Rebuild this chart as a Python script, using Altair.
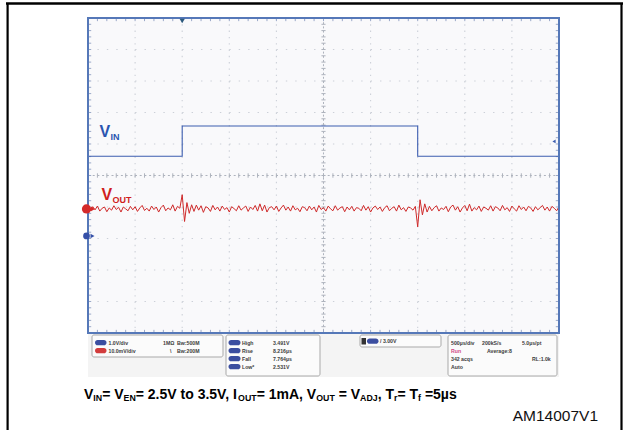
import altair as alt
import pandas as pd

# ---------------- data ----------------
vin_time_ms = [0.0, 1.0, 1.0, 3.5, 3.5, 5.0]
vin_volts = [2.531, 2.531, 3.491, 3.491, 2.531, 2.531]

vout_step_ms = 0.025
vout_ac_mv = [
    0.4, -0.6, 0.7, -0.3, 0.9, -0.7, 0.2, 0.6, -0.9, 0.3,
    -0.4, 1.0, -0.2, 0.5, -1.0, 0.6, 0.0, -0.6, 0.8, -0.3,
    0.7, -0.8, 0.3, 1.1, -0.5, 0.2, -0.7, 0.9, -0.2, 0.6,
    -1.0, 0.4, 1.2, -0.6, 0.3, -0.3, 1.3, -0.7, 0.8, 0.2,
    4.5, -4.0, 2.0, -1.4, 1.3,
    -0.8, 1.2, -0.4, 1.0, -1.1, 0.7, 0.3, -0.8, 1.1, -0.3,
    0.6, -0.7, 0.9, -0.2, 0.4, -1.0, 0.7, 0.1, -0.6, 1.0,
    -0.4, 0.3, 0.9, -0.8, 0.6, -0.2, 1.1, -0.7, 1.6, -0.6,
    1.2, -1.0, 0.4, 0.7, -0.3, 0.9, -0.8, 0.3, 1.2, -0.4,
    0.6, -0.7, 1.0, -0.3, 0.2, -0.9, 0.7, 0.4, -0.6, 0.9,
    -0.3, 0.6, -1.0, 1.1, -0.2, 0.4, -0.7, 0.9, 0.0, -0.6,
    1.0, -0.4, 0.3, 0.7, -0.9, 0.6, -0.3, 0.8, -0.7, 0.4,
    0.2, -0.6, 1.1, -0.4, 0.7, -1.0, 0.3, 0.9, -0.2, 0.6,
    -0.8, 0.4, 1.0, -0.6, 0.2, 0.7, -0.7, 1.2, -0.3, 0.4,
    -0.8, 0.6, 0.3, -0.4, 0.8,
    -5.7, 2.9, -1.9, 1.6, -1.0,
    0.8, -0.6, 0.4, 1.0, -0.7, 0.3, -0.2, 0.8, -0.9, 0.6,
    1.2, -0.4, 0.7, -1.0, 0.3, 1.1, -0.6, 1.5, -0.7, 0.4,
    -0.3, 0.9, -0.8, 0.6, 0.2, -0.4, 1.0, -0.7, 0.7, 0.3,
    -0.6, 1.1, -0.3, 0.4, -0.8, 0.9, 0.0, -0.7, 1.0, -0.2,
    0.6, -0.6, 0.8, 0.3, -0.8, 0.7, -0.3, 0.4, 1.1, -0.4,
    0.6, -0.7, 0.8, 0.2, -0.6, 0.7,
]

vin_volts_per_div = 1.0
vout_mv_per_div = 10.0
vin_ground_div = -1.92
vout_offset_div = -1.06
trigger_level_v = 3.0
trigger_time_ms = 1.0

ch_scale = ["1.0V/div", "10.0mV/div"]
ch_imp = ["1MΩ", "\\"]
ch_bw = ["Bw:500M", "Bw:200M"]
meas_names = ["High", "Rise", "Fall", "Low*"]
meas_values = ["3.491V", "8.216µs", "7.764µs", "2.531V"]
trig_text = "/ 3.00V"
acq_col1 = ["500µs/div", "Run", "342 acqs", "Auto"]
acq_col2 = ["200kS/s", "Average:8", "", ""]
acq_col3 = ["5.0µs/pt", "", "RL:1.0k", ""]
caption_main = ["V", "= V", "= 2.5V to 3.5V, I", "= 1mA, V", " = V", ", T", "= T", " =5µs"]
caption_sub = ["IN", "EN", "OUT", "OUT", "ADJ", "r", "f"]
figure_id = "AM14007V1"

# ---------------- tables ----------------
vin_df = pd.DataFrame({"t": vin_time_ms,
                       "d": [v / vin_volts_per_div + vin_ground_div for v in vin_volts]})
vout_df = pd.DataFrame({"t": [i * vout_step_ms for i in range(len(vout_ac_mv))],
                        "d": [m / vout_mv_per_div + vout_offset_div for m in vout_ac_mv]})

XS = alt.Scale(domain=[-0.9342, 5.7113], nice=False, zero=False)
YS = alt.Scale(domain=[-8.0794, 5.5714], nice=False, zero=False)
one = pd.DataFrame({"a": [0]})

SANS = "Liberation Sans, Arial, sans-serif"

# Arial/Liberation Sans Bold advance widths (1/1000 em) for laying out the caption pieces
BOLD_W = {'V': 667, '=': 584, ' ': 278, 'I': 278, 'N': 722, 'E': 667, '2': 556, '.': 278, '5': 556,
          't': 333, 'o': 611, '3': 556, ',': 278, 'O': 778, 'U': 722, 'T': 611, '1': 556, 'm': 889,
          'A': 722, 'D': 722, 'J': 556, 'r': 389, 'f': 333, 'µ': 611, 's': 556}


def rules(df, color, width=1.0, dash=None, opacity=1.0):
    kw = dict(color=color, strokeWidth=width, opacity=opacity)
    if dash:
        kw["strokeDash"] = dash
    enc = dict(x=alt.X("t:Q", scale=XS, axis=None), y=alt.Y("d:Q", scale=YS, axis=None))
    if "t2" in df:
        enc["x2"] = alt.X2("t2:Q")
    if "d2" in df:
        enc["y2"] = alt.Y2("d2:Q")
    return alt.Chart(df).mark_rule(**kw).encode(**enc)


def txt(s, x, y, size, color="#000", weight="normal", font=SANS, align="left", baseline="alphabetic"):
    return alt.Chart(one).mark_text(text=s, fontSize=size, color=color, fontWeight=weight, font=font,
                                    align=align, baseline=baseline).encode(
        x=alt.value(x), y=alt.value(y))


def box(x, x2, y, y2, fill, stroke=None, sw=1.0, r=0):
    kw = dict(fill=fill, cornerRadius=r)
    if stroke:
        kw["stroke"] = stroke
        kw["strokeWidth"] = sw
    return alt.Chart(one).mark_rect(**kw).encode(
        x=alt.value(x), x2=alt.value(x2), y=alt.value(y), y2=alt.value(y2))


layers = []
# info strip and graticule background
layers.append(box(88, 559, 334, 377, "#f4f4f4"))
layers.append(alt.Chart(pd.DataFrame({"t": [0.0], "t2": [5.0], "d": [5.0], "d2": [-5.0]})).mark_rect(
    fill="#f9f9fb").encode(x=alt.X("t:Q", scale=XS, axis=None), x2="t2:Q",
                           y=alt.Y("d:Q", scale=YS, axis=None), y2="d2:Q"))

# grid (faint dotted)
gh = pd.DataFrame({"d": [float(k) for k in range(-4, 5) if k != 0]})
gh["t"], gh["t2"] = 0.0, 5.0
gv = pd.DataFrame({"t": [0.5 * k for k in range(1, 10) if k != 5]})
gv["d"], gv["d2"] = 5.0, -5.0
layers.append(rules(gh, "#ccd0d8", 1.1, [1.4, 8.02]))
layers.append(rules(gv, "#ccd0d8", 1.1, [1.4, 4.9]))
# center cross
layers.append(rules(pd.DataFrame({"t": [0.0], "t2": [5.0], "d": [0.0]}), "#aeb3bd", 1, [2, 2.7]))
layers.append(rules(pd.DataFrame({"t": [2.5], "d": [5.0], "d2": [-5.0]}), "#aeb3bd", 1, [2, 2.2]))
ct = pd.DataFrame({"t": [0.1 * k for k in range(1, 50)]})
ct["d"], ct["d2"] = -0.07, 0.07
layers.append(rules(ct, "#aeb3bd", 1))
cv = pd.DataFrame({"d": [0.2 * j - 5 for j in range(1, 50)]})
cv["t"], cv["t2"] = 2.5 - 0.022, 2.5 + 0.022
layers.append(rules(cv, "#aeb3bd", 1))
# edge ticks
et = pd.DataFrame({"t": [0.1 * k for k in range(1, 50)]})
et_top = et.copy(); et_top["d"], et_top["d2"] = 5.0, 4.9
et_bot = et.copy(); et_bot["d"], et_bot["d2"] = -5.0, -4.9
ev = pd.DataFrame({"d": [0.2 * j - 5 for j in range(1, 50)]})
ev_l = ev.copy(); ev_l["t"], ev_l["t2"] = 0.0, 0.034
ev_r = ev.copy(); ev_r["t"], ev_r["t2"] = 5.0 - 0.034, 5.0
for df in (et_top, et_bot, ev_l, ev_r):
    layers.append(rules(df, "#9aa8c8", 1))

# traces
layers.append(alt.Chart(vin_df).mark_line(color="#3d5eb0", strokeWidth=1.1).encode(
    x=alt.X("t:Q", scale=XS, axis=None), y=alt.Y("d:Q", scale=YS, axis=None)))
layers.append(alt.Chart(vout_df).mark_line(color="#cf2a2a", strokeWidth=1.0).encode(
    x=alt.X("t:Q", scale=XS, axis=None), y=alt.Y("d:Q", scale=YS, axis=None)))

# graticule border
layers.append(alt.Chart(pd.DataFrame({"t": [0.0], "t2": [5.0], "d": [5.0], "d2": [-5.0]})).mark_rect(
    fillOpacity=0, stroke="#5578b8", strokeWidth=2).encode(
    x=alt.X("t:Q", scale=XS, axis=None), x2="t2:Q", y=alt.Y("d:Q", scale=YS, axis=None), y2="d2:Q"))

# markers: channel offsets, trigger position, trigger level
mk_vin = pd.DataFrame({"d": [vin_ground_div]})
mk_vout = pd.DataFrame({"d": [vout_offset_div]})
layers.append(alt.Chart(mk_vin).mark_point(shape="circle", filled=True, size=45, color="#3550a8", opacity=1).encode(
    x=alt.value(86.5), y=alt.Y("d:Q", scale=YS, axis=None)))
layers.append(alt.Chart(mk_vin).mark_point(shape="triangle-right", filled=True, size=22, color="#3550a8", opacity=1).encode(
    x=alt.value(92.5), y=alt.Y("d:Q", scale=YS, axis=None)))
layers.append(alt.Chart(mk_vout).mark_point(shape="circle", filled=True, size=85, color="#d42a2a", opacity=1).encode(
    x=alt.value(86.5), y=alt.Y("d:Q", scale=YS, axis=None)))
layers.append(alt.Chart(mk_vout).mark_point(shape="triangle-right", filled=True, size=22, color="#d42a2a", opacity=1).encode(
    x=alt.value(93), y=alt.Y("d:Q", scale=YS, axis=None)))
layers.append(alt.Chart(pd.DataFrame({"t": [trigger_time_ms]})).mark_point(
    shape="triangle-down", filled=True, size=28, color="#2d5a7e", opacity=1).encode(
    x=alt.X("t:Q", scale=XS, axis=None), y=alt.value(21)))
layers.append(alt.Chart(pd.DataFrame({"d": [trigger_level_v / vin_volts_per_div + vin_ground_div]})).mark_point(
    shape="triangle-left", filled=True, size=14, color="#3d5eb0", opacity=1).encode(
    x=alt.value(554), y=alt.Y("d:Q", scale=YS, axis=None)))

# channel labels
layers.append(txt("V", 99.5, 136.7, 16, "#2a55b0", "bold"))
layers.append(txt("IN", 110.5, 139.5, 9, "#2a55b0", "bold"))
layers.append(txt("V", 101.5, 200, 16, "#d01e1e", "bold"))
layers.append(txt("OUT", 112.5, 202.5, 9, "#d01e1e", "bold"))

# info boxes
INFO = "#3c3c3c"
FS = 5.2
layers.append(box(92, 223, 335, 357, "#fbfbfb", "#a9a9a9", 1, 2))
rows1 = [342.7, 350.7]
for i, yv in enumerate(rows1):
    layers.append(box(95, 106.5, yv - 2.6, yv + 2.6, "#3b4ea0" if i == 0 else "#d23c3c", r=2.6))
    layers.append(txt(ch_scale[i], 108.5, yv, FS, INFO, "bold", baseline="middle"))
    layers.append(txt(ch_imp[i], 163 if i == 0 else 170, yv, FS, INFO, "bold", baseline="middle"))
    layers.append(txt(ch_bw[i], 177, yv, FS, INFO, "bold", baseline="middle"))

layers.append(box(226, 320, 335, 376, "#fbfbfb", "#a9a9a9", 1, 2))
rows2 = [342.7, 350.7, 358.7, 366.7]
for i, yv in enumerate(rows2):
    layers.append(box(228.5, 240.5, yv - 2.6, yv + 2.6, "#3b4ea0", r=2.6))
    layers.append(txt(meas_names[i], 242, yv, FS, INFO, "bold", baseline="middle"))
    layers.append(txt(meas_values[i], 273, yv, FS, INFO, "bold", baseline="middle"))

layers.append(box(360, 441, 335, 347, "#fbfbfb", "#a9a9a9", 1, 2))
layers.append(box(361.5, 366, 338, 344.5, "#333333"))
layers.append(box(367, 378.5, 338.6, 343.8, "#3b4ea0", r=2.6))
layers.append(txt(trig_text, 380, 341.3, FS, INFO, "bold", baseline="middle"))

layers.append(box(448, 557, 335, 376, "#fbfbfb", "#a9a9a9", 1, 2))
for i, yv in enumerate(rows2):
    layers.append(txt(acq_col1[i], 451, yv, FS, "#d04a86" if i == 1 else INFO, "bold", baseline="middle"))
    if acq_col2[i]:
        layers.append(txt(acq_col2[i], 482 if i == 0 else 487, yv, FS, INFO, "bold", baseline="middle"))
    if acq_col3[i]:
        layers.append(txt(acq_col3[i], 522 if i == 0 else 532, yv, FS, INFO, "bold", baseline="middle"))

# caption: pieces laid out one after another using the bold font's advance widths
MAIN_FS, SUB_FS = 14.0, 8.8
MAIN_BASE, SUB_BASE = 398.5, 401.0
cx = 84.0
pieces = []
for i, m in enumerate(caption_main):
    pieces.append((m, False))
    if i < len(caption_sub):
        pieces.append((caption_sub[i], True))
for s, is_sub in pieces:
    fs = SUB_FS if is_sub else MAIN_FS
    lead = len(s) - len(s.lstrip(" "))
    cx += lead * BOLD_W[' '] * fs / 1000.0
    body = s.strip(" ")
    layers.append(txt(body, cx, SUB_BASE if is_sub else MAIN_BASE, fs, "#000", "bold", SANS))
    cx += sum(BOLD_W.get(c, 556) for c in body) * fs / 1000.0
layers.append(txt(figure_id, 598, 421, 15.5, "#111", "normal", SANS, align="right"))

# outer frame
layers.append(alt.Chart(one).mark_rule(color="#000", strokeWidth=2.5).encode(
    x=alt.value(6), x2=alt.value(623), y=alt.value(3.5)))
layers.append(alt.Chart(one).mark_rule(color="#000", strokeWidth=2.2).encode(
    x=alt.value(7.6), y=alt.value(3), y2=alt.value(430)))
layers.append(alt.Chart(one).mark_rule(color="#000", strokeWidth=2.2).encode(
    x=alt.value(621.5), y=alt.value(3), y2=alt.value(430)))

chart = alt.layer(*layers).properties(
    width=626, height=430, autosize=alt.AutoSizeParams(type="none"), padding=0,
    background="#ffffff",
).configure_view(stroke=None)

chart.save("out.html", embed_options={"renderer": "svg", "actions": False})
